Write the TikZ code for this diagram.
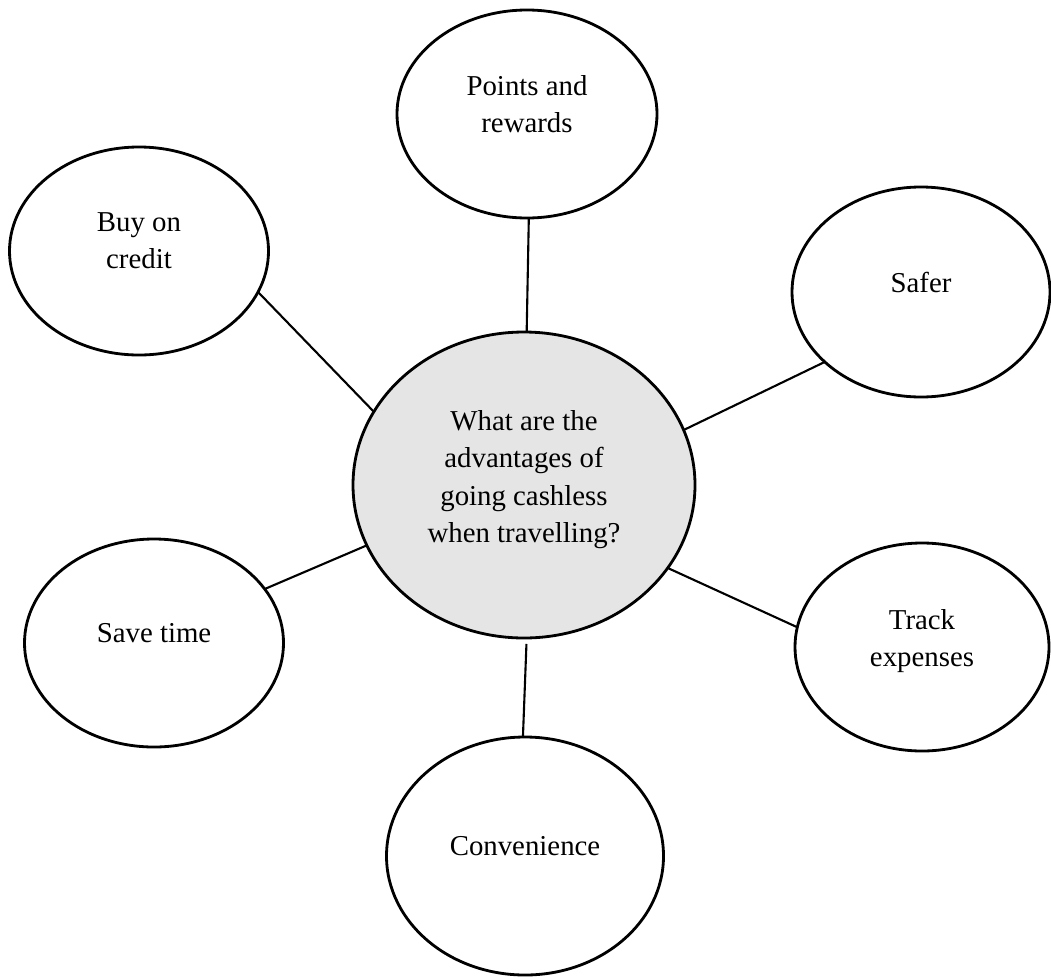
\documentclass[tikz,border=0pt]{standalone}
\usepackage{fontspec}
\setmainfont{Liberation Serif}
\usetikzlibrary{shapes.geometric}

\begin{document}
\begin{tikzpicture}[
    bubble/.style={draw, ellipse, line width=1.6pt, inner sep=0pt, outer sep=0pt, minimum width=5.18cm, minimum height=4.16cm},
    link/.style={line width=1.2pt},
    every label/.style={align=center, font=\fontsize{16.4}{21.2}\selectfont, yshift=2mm}
]
\useasboundingbox (0,0) rectangle (21.02,-19.54);
\node[bubble, fill=black!10, minimum width=6.84cm, minimum height=6.12cm, label={[yshift=-0.9mm]center:What are the\\advantages of\\going cashless\\when travelling?}] (hub) at (10.48,-9.70) {};
\node[bubble, minimum width=5.2cm, label={center:Points and\\rewards}] (points) at (10.54,-2.28) {};
\node[bubble, label={center:Buy on\\credit}] (buy) at (2.78,-5.02) {};
\node[bubble, minimum width=5.16cm, minimum height=4.2cm, label={center:Safer}] (safer) at (18.42,-5.84) {};
\node[bubble, label={center:Save time}] (save) at (3.08,-12.86) {};
\node[bubble, minimum width=5.08cm, label={[yshift=-0.8mm]center:Track\\expenses}] (track) at (18.44,-12.94) {};
\node[bubble, minimum width=5.54cm, minimum height=4.76cm, label={center:Convenience}] (conv) at (10.50,-17.12) {};

\draw[link] (points.-89) -- (hub.89);
\draw[link] (buy.-19) -- (hub.154);
\draw[link] (safer.216) -- (hub.19);
\draw[link] (save.26) -- (hub.201);
\draw[link] (hub.-30) -- (track.171);
\draw[link, shorten <=0.12cm] (hub.-89) -- (conv.91);
\end{tikzpicture}
\end{document}
